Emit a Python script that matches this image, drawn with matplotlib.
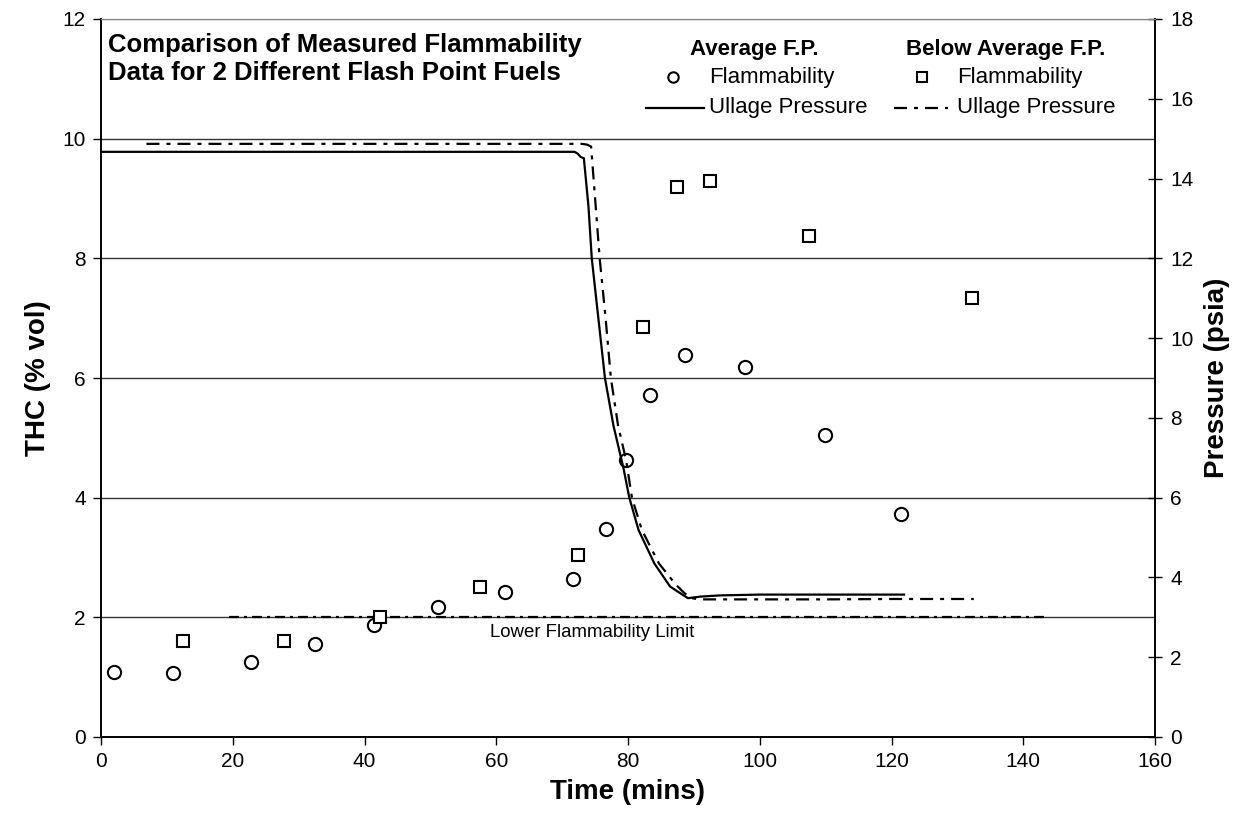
import matplotlib
matplotlib.use("Agg")
import matplotlib.pyplot as plt
from matplotlib.lines import Line2D

plt.rcParams['font.family'] = ['Liberation Sans', 'DejaVu Sans']

# ---- data ----
avg_fl_time = [2.0, 10.9, 22.8, 32.5, 41.5, 51.2, 61.4, 71.7, 76.6, 79.7, 83.4, 88.6, 97.7, 109.9, 121.4]
avg_fl_thc = [1.08, 1.07, 1.25, 1.56, 1.87, 2.17, 2.42, 2.64, 3.47, 4.63, 5.72, 6.39, 6.19, 5.05, 3.72]

below_fl_time = [12.5, 27.8, 42.4, 57.5, 72.4, 82.3, 87.4, 92.4, 107.5, 132.2]
below_fl_thc = [1.60, 1.60, 2.00, 2.51, 3.04, 6.85, 9.20, 9.30, 8.37, 7.34]

avg_p_time = [0, 71.9, 72.4, 72.8, 73.3, 74.0, 74.5, 75.5, 76.5, 77.8, 79.3, 80.2, 81.6, 84.0,
              86.4, 89.1, 91.0, 94.0, 100, 110, 121.9]
avg_p_psia = [14.67, 14.67, 14.62, 14.54, 14.51, 13.3, 12.0, 10.5, 9.0, 7.8, 6.75, 6.0, 5.19, 4.35,
              3.77, 3.48, 3.52, 3.55, 3.57, 3.57, 3.57]

below_p_time = [6.9, 73.0, 73.8, 74.4, 75.7, 76.6, 77.4, 78.5, 79.7, 80.6, 82.1, 84.7, 87.2, 88.6,
                89.6, 91.0, 100, 110, 120, 132.5]
below_p_psia = [14.87, 14.87, 14.85, 14.80, 12.0, 10.5, 9.0, 7.8, 6.95, 6.0, 5.19, 4.35, 3.83, 3.60,
                3.48, 3.45, 3.45, 3.45, 3.46, 3.46]

lfl_time = [19.5, 143.5]
lfl_thc = [2.0, 2.0]

x_ticks = [0, 20, 40, 60, 80, 100, 120, 140, 160]
thc_ticks = [0, 2, 4, 6, 8, 10, 12]
psia_ticks = [0, 2, 4, 6, 8, 10, 12, 14, 16, 18]

W, H = 1255, 827
fig = plt.figure(figsize=(W / 100, H / 100), dpi=100)
ax = fig.add_axes([101 / W, 1 - 737 / H, (1155 - 101) / W, (737 - 19) / H])
ax2 = ax.twinx()

dashdot = (5.85, 3.15, 1.8, 3.15)
lfl_dash = (4.5, 2.25, 1.35, 2.25)

# gridlines
for yv in thc_ticks[1:]:
    ax.axhline(yv, color='#333333' if yv < 12 else '#888888', lw=1.0, zorder=0)

ax.plot(avg_fl_time, avg_fl_thc, linestyle='none', marker='o', markersize=9.5,
        markerfacecolor='white', markeredgecolor='black', markeredgewidth=1.5, zorder=5)
ax.plot(below_fl_time, below_fl_thc, linestyle='none', marker='s', markersize=9,
        markerfacecolor='white', markeredgecolor='black', markeredgewidth=1.5, zorder=5)
l, = ax.plot(lfl_time, lfl_thc, color='black', lw=1.6, zorder=3)
l.set_dashes(lfl_dash)

ax2.plot(avg_p_time, avg_p_psia, color='black', lw=1.6)
l2, = ax2.plot(below_p_time, below_p_psia, color='black', lw=1.6)
l2.set_dashes(dashdot)

ax.set_xlim(0, 160)
ax.set_ylim(0, 12)
ax2.set_ylim(0, 18)
ax.set_xticks(x_ticks)
ax.set_yticks(thc_ticks)
ax2.set_yticks(psia_ticks)
ax.tick_params(axis='both', labelsize=15, direction='out', length=6, width=1, pad=5)
ax2.tick_params(axis='y', labelsize=15, direction='inout', length=10, width=1, pad=6)
ax.spines['top'].set_color('#888888')
ax2.spines['top'].set_color('#888888')
for s in ['left', 'bottom', 'right']:
    ax.spines[s].set_linewidth(1.2)
    ax2.spines[s].set_linewidth(1.2)

ax.set_xlabel('Time (mins)', fontsize=20, fontweight='bold')
ax.set_ylabel('THC (% vol)', fontsize=20, fontweight='bold')
ax2.set_ylabel('Pressure (psia)', fontsize=20, fontweight='bold')
ax.xaxis.label.set_va('center')
ax.yaxis.label.set_va('center')
ax2.yaxis.label.set_va('center')
ax.xaxis.set_label_coords(0.5, (737 - 792) / 718)
ax.yaxis.set_label_coords((38 - 101) / 1054, 0.5)
ax2.yaxis.set_label_coords((1217 - 101) / 1054, 0.5)

ax.text(59.1, 1.75, 'Lower Flammability Limit', fontsize=13.4, ha='left', va='center')


def fx(px):
    return px / W


def fy(py):
    return 1 - py / H


fig.text(fx(108), fy(45), 'Comparison of Measured Flammability', fontsize=18.5,
         fontweight='bold', ha='left', va='center')
fig.text(fx(108), fy(73), 'Data for 2 Different Flash Point Fuels', fontsize=18.5,
         fontweight='bold', ha='left', va='center')

fig.text(fx(754), fy(50), 'Average F.P.', fontsize=16, fontweight='bold', ha='center', va='center')
fig.text(fx(1006), fy(50), 'Below Average F.P.', fontsize=16, fontweight='bold', ha='center', va='center')
fig.text(fx(709), fy(77), 'Flammability', fontsize=16, ha='left', va='center')
fig.text(fx(957), fy(77), 'Flammability', fontsize=16, ha='left', va='center')
fig.text(fx(709), fy(108), 'Ullage Pressure', fontsize=16, ha='left', va='center')
fig.text(fx(957), fy(108), 'Ullage Pressure', fontsize=16, ha='left', va='center')

fig.add_artist(Line2D([fx(673)], [fy(77)], marker='o', markersize=7.5, markerfacecolor='white',
                      markeredgecolor='black', markeredgewidth=1.5, linestyle='none'))
fig.add_artist(Line2D([fx(922)], [fy(77)], marker='s', markersize=7.5, markerfacecolor='white',
                      markeredgecolor='black', markeredgewidth=1.5, linestyle='none'))
fig.add_artist(Line2D([fx(646), fx(704)], [fy(108), fy(108)], color='black', lw=1.6))
ld = Line2D([fx(894), fx(948)], [fy(108), fy(108)], color='black', lw=1.6)
ld.set_dashes(dashdot)
fig.add_artist(ld)

fig.savefig('out.png', dpi=100)
